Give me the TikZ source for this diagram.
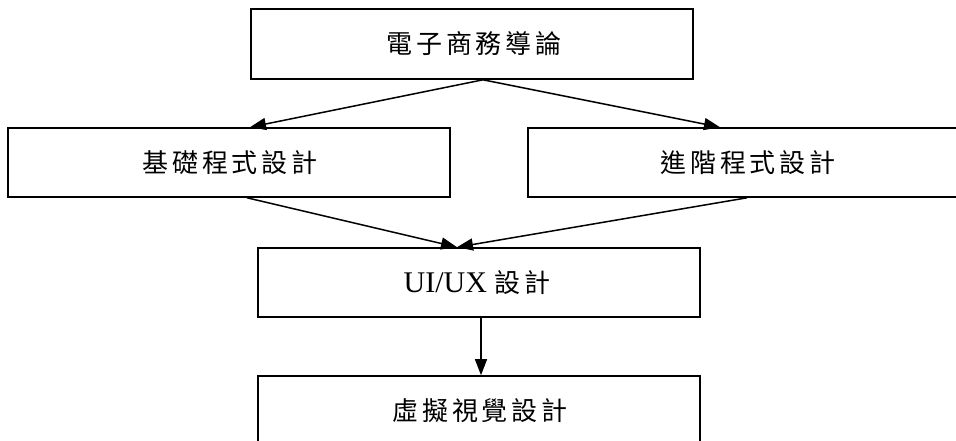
\documentclass[tikz,border=0pt]{standalone}
\usepackage{fontspec}
\setmainfont{Liberation Serif}
\newfontfamily\cjk{Noto Sans CJK TC}[LetterSpace=15]
\usetikzlibrary{arrows.meta}
\begin{document}
\begin{tikzpicture}[x=1pt,y=-1pt,
  box/.style={draw=black,line width=1.6pt,minimum width=442pt,minimum height=69pt,inner sep=0pt,anchor=center},
  lbl/.style={font=\cjk\fontsize{26}{30}\selectfont},
  conn/.style={line width=1.5pt,-{Triangle[length=16pt,width=12pt]}}]
\useasboundingbox (0,0) rectangle (956,441);
\clip (0,0) rectangle (956,441);
\fill[white] (0,0) rectangle (956,441);
\node[box,minimum height=70pt] (top) at (472,44) {};
\node[lbl] at (474,44) {電子商務導論};
\node[box] (basic) at (229,162.5) {};
\node[lbl] at (230,162.5) {基礎程式設計};
\node[box] (adv) at (749,162.5) {};
\node[lbl] at (748,162.5) {進階程式設計};
\node[box] (ui) at (479,282.5) {};
\node[font=\fontsize{30}{34}\selectfont] at (477,282.5) {UI/UX {\cjk\fontsize{26}{30}\selectfont 設計}};
\node[box,minimum height=70pt] (vr) at (479,411) {};
\node[lbl] at (480,411) {虛擬視覺設計};
\coordinate (ts) at ([xshift=11pt]top.south);
\draw[conn] (ts) -- ([xshift=21pt]basic.north);
\draw[conn] (ts) -- ([xshift=-29pt]adv.north);
\draw[conn] ([xshift=18pt]basic.south) -- ([xshift=-22pt]ui.north);
\draw[conn] ([xshift=-2pt]adv.south) -- ([xshift=-22pt]ui.north);
\draw[conn] ([xshift=2pt]ui.south) -- ([xshift=2pt]vr.north);
\end{tikzpicture}
\end{document}
